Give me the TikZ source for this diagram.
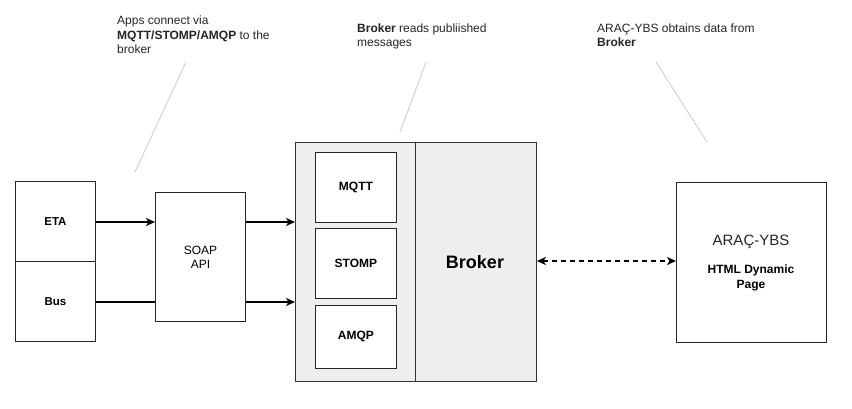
\documentclass[tikz,border=0pt]{standalone}
\usepackage{fontspec}
\setmainfont{Liberation Sans}
\usetikzlibrary{arrows.meta}
\definecolor{boxgray}{HTML}{EEEEEE}
\definecolor{notecol}{HTML}{C3CDDF}
\begin{document}
\begin{tikzpicture}[x=1pt,y=-1pt,
  box/.style={draw=black!85,line width=0.9pt,fill=white,inner sep=0pt,anchor=north west},
  graybox/.style={draw=black!80,line width=0.9pt,fill=boxgray,inner sep=0pt,anchor=north west},
  lbl/.style={font=\fontsize{11.5}{13}\selectfont\bfseries},
  plbl/.style={font=\fontsize{12}{14}\selectfont\bfseries},
  note/.style={font=\fontsize{12}{14.5}\selectfont,align=left,anchor=north west,inner sep=0pt,text=black!85},
  noteline/.style={draw=notecol,line width=0.8pt},
  conn/.style={line width=1.6pt,-{Stealth[length=9pt,width=8pt,inset=2.5pt]}},
  dconn/.style={line width=1.6pt,dashed,dash pattern=on 5pt off 4pt,{Stealth[length=9pt,width=8pt,inset=2.5pt]}-{Stealth[length=9pt,width=8pt,inset=2.5pt]}}]
\useasboundingbox[fill=white] (0,0) rectangle (852,408);
% left boxes
\node[box,minimum width=80pt,minimum height=80pt] (eta) at (15,181) {};
\node[box,minimum width=80pt,minimum height=80pt] (bus) at (15,261) {};
\node[lbl] at (eta.center) {ETA};
\node[lbl] at (bus.center) {Bus};
% SOAP
\node[box,minimum width=90pt,minimum height=129pt] (soap) at (155,192) {};
\node[font=\fontsize{12}{14}\selectfont,align=center] at (soap.center) {SOAP\\API};
% broker container
\node[graybox,minimum width=120pt,minimum height=239pt] (left) at (295,142) {};
\node[graybox,minimum width=121pt,minimum height=239pt] (broker) at (415,142) {};
\node[font=\fontsize{18}{20}\selectfont\bfseries] at (475,262) {Broker};
\node[box,minimum width=81pt,minimum height=70pt] (mqtt) at (315,152) {};
\node[box,minimum width=81pt,minimum height=70pt] (stomp) at (315,228) {};
\node[box,minimum width=81pt,minimum height=63pt] (amqp) at (315,305) {};
\node[plbl] at (mqtt.center) {MQTT};
\node[plbl] at (stomp.center) {STOMP};
\node[plbl] at (amqp.center) {AMQP};
% ARAC-YBS
\node[box,minimum width=150pt,minimum height=160pt] (arac) at (676,182) {};
\node[font=\fontsize{15}{17}\selectfont,text=black!85] at (751,242) {ARAÇ-YBS};
\node[font=\fontsize{12}{14.5}\selectfont\bfseries,align=center] at (751,278) {HTML Dynamic\\Page};
% connectors
\coordinate (eta2) at (eta.east |- 0,222);
\coordinate (soap1in) at (soap.west |- 0,222);
\coordinate (bus2) at (bus.east |- 0,302);
\coordinate (soap2in) at (soap.west |- 0,302);
\coordinate (soap1out) at (soap.east |- 0,222);
\coordinate (soap2out) at (soap.east |- 0,302);
\coordinate (br1) at (left.west |- 0,222);
\coordinate (br2) at (left.west |- 0,302);
\coordinate (brr) at (broker.east |- 0,261);
\coordinate (arl) at (arac.west |- 0,261);
\draw[conn] (eta2) -- (soap1in);
\draw[line width=1.6pt] (bus2) -- (soap2in);
\draw[conn] (soap1out) -- (br1);
\draw[conn] (soap2out) -- (br2);
\draw[dconn] (brr) -- (arl);
% notes
\node[note] (n1) at (117,16) {Apps connect via\\\textbf{MQTT/STOMP/AMQP} to the\\broker};
\node[note] (n2) at (357,23.5) {\textbf{Broker} reads publiished\\messages};
\node[note] (n3) at (597,23.5) {ARAÇ-YBS obtains data from\\\textbf{Broker}};
\coordinate (a1) at (186,62); \coordinate (b1) at (135,172);
\coordinate (a2) at (426,62); \coordinate (b2) at (400,132);
\coordinate (a3) at (656,62); \coordinate (b3) at (707,142);
\draw[noteline] (a1) -- (b1);
\draw[noteline] (a2) -- (b2);
\draw[noteline] (a3) -- (b3);
\end{tikzpicture}
\end{document}
